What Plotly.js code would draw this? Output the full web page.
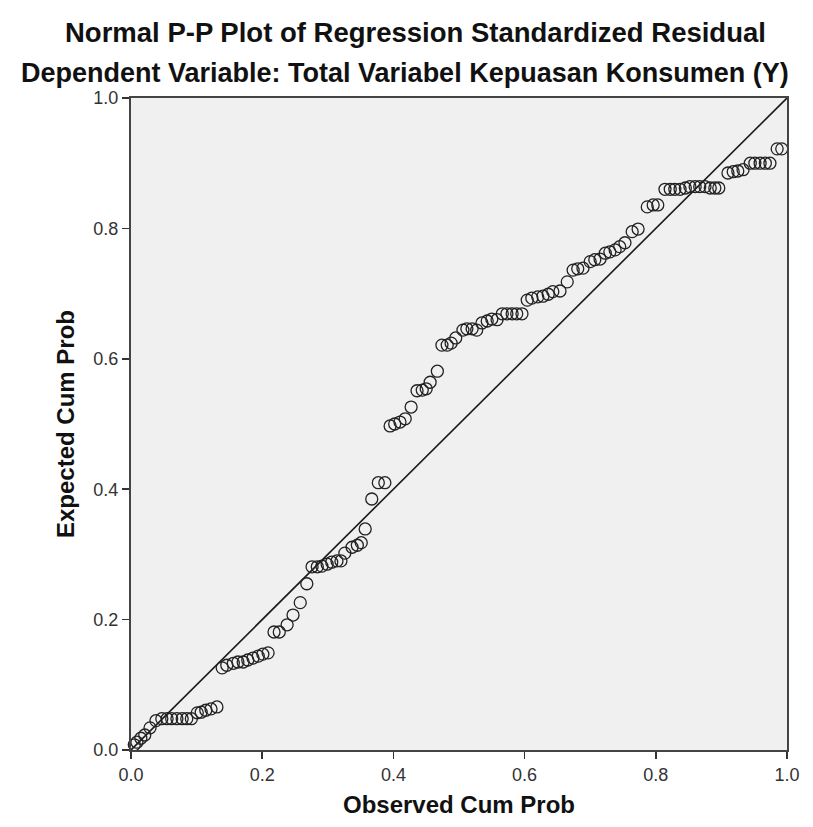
<!DOCTYPE html>
<html>
<head>
<meta charset="utf-8">
<script src="https://cdn.plot.ly/plotly-3.0.1.min.js"></script>
<style>html,body{margin:0;padding:0;background:#fff;}#chart{width:813px;height:827px;}</style>
</head>
<body>
<div id="chart"></div>
<script>
// Observed cumulative probability (x) and expected cumulative probability (y)
var observedCumProb = [
  0.005, 0.009, 0.015, 0.021, 0.029, 0.038,
  0.047, 0.055, 0.062, 0.070, 0.078, 0.085, 0.092,
  0.101, 0.107, 0.114, 0.122, 0.131,
  0.139, 0.146, 0.156, 0.163, 0.171, 0.178, 0.186, 0.194, 0.201, 0.209,
  0.218, 0.226, 0.238, 0.247, 0.258, 0.268, 0.276, 0.284, 0.291, 0.299, 0.306, 0.314, 0.320,
  0.326, 0.337, 0.345, 0.351, 0.357, 0.367, 0.377, 0.387,
  0.395, 0.402, 0.410, 0.418, 0.427, 0.436, 0.444, 0.450, 0.456, 0.467,
  0.474, 0.482, 0.488, 0.495, 0.506, 0.512, 0.520, 0.527, 0.535, 0.543, 0.550, 0.558,
  0.566, 0.573, 0.581, 0.588, 0.596,
  0.604, 0.611, 0.620, 0.628, 0.636, 0.643, 0.654, 0.665, 0.674, 0.681, 0.689,
  0.700, 0.707, 0.715, 0.723, 0.730, 0.738, 0.745, 0.753, 0.764, 0.773,
  0.787, 0.796, 0.803,
  0.814, 0.822, 0.829, 0.837, 0.845, 0.852, 0.860, 0.867, 0.875, 0.883, 0.890, 0.896,
  0.910, 0.918, 0.925, 0.933, 0.944, 0.951, 0.959, 0.967, 0.974, 0.985, 0.992
];
var expectedCumProb = [
  0.008, 0.012, 0.018, 0.023, 0.034, 0.045,
  0.048, 0.048, 0.048, 0.048, 0.048, 0.048, 0.048,
  0.057, 0.058, 0.061, 0.063, 0.066,
  0.126, 0.130, 0.133, 0.135, 0.135, 0.138, 0.141, 0.144, 0.147, 0.149,
  0.181, 0.181, 0.192, 0.207, 0.226, 0.255, 0.281, 0.281, 0.282, 0.285, 0.288, 0.290, 0.290,
  0.302, 0.311, 0.314, 0.318, 0.339, 0.385, 0.410, 0.410,
  0.497, 0.500, 0.503, 0.508, 0.526, 0.551, 0.552, 0.554, 0.564, 0.581,
  0.621, 0.621, 0.624, 0.632, 0.644, 0.646, 0.646, 0.644, 0.655, 0.658, 0.661, 0.660,
  0.669, 0.669, 0.669, 0.669, 0.669,
  0.690, 0.693, 0.695, 0.696, 0.699, 0.703, 0.704, 0.718, 0.736, 0.738, 0.739,
  0.749, 0.752, 0.753, 0.762, 0.764, 0.767, 0.772, 0.778, 0.795, 0.799,
  0.833, 0.836, 0.836,
  0.860, 0.860, 0.860, 0.860, 0.862, 0.864, 0.864, 0.864, 0.864, 0.862, 0.862, 0.862,
  0.885, 0.887, 0.888, 0.890, 0.900, 0.900, 0.900, 0.900, 0.900, 0.922, 0.922
];
var referenceLine = [0, 1];
var tickValues = [0, 0.2, 0.4, 0.6, 0.8, 1.0];
var tickLabels = ["0.0", "0.2", "0.4", "0.6", "0.8", "1.0"];

var FONT = "Liberation Sans, Arial, sans-serif";

var traces = [
  {
    x: referenceLine, y: referenceLine, type: "scatter", mode: "lines",
    line: {color: "#1a1a1a", width: 1.6}, hoverinfo: "skip", cliponaxis: false
  },
  {
    x: observedCumProb, y: expectedCumProb, type: "scatter", mode: "markers",
    marker: {symbol: "circle-open", size: 12, color: "#222", line: {width: 1.3, color: "#222"}},
    cliponaxis: false
  }
];

var axisCommon = {
  range: [0, 1], tickvals: tickValues, ticktext: tickLabels,
  showgrid: false, zeroline: false,
  showline: true, mirror: true, linecolor: "#444", linewidth: 2,
  ticks: "outside", ticklen: 7, tickwidth: 1.5, tickcolor: "#333",
  tickfont: {family: FONT, size: 18, color: "#333"}
};

var layout = {
  width: 813, height: 827,
  margin: {l: 131, r: 26, t: 98, b: 77},
  paper_bgcolor: "#ffffff", plot_bgcolor: "#f0f0f0",
  showlegend: false,
  xaxis: Object.assign({}, axisCommon, {
    title: {text: "<b>Observed Cum Prob</b>", font: {family: FONT, size: 24, color: "#111"}, standoff: 13}
  }),
  yaxis: Object.assign({}, axisCommon, {
    title: {text: "<b>Expected Cum Prob</b>", font: {family: FONT, size: 24, color: "#111"}, standoff: 12}
  }),
  annotations: [
    {text: "<b>Normal P-P Plot of Regression Standardized Residual</b>", xref: "paper", yref: "paper",
     x: 0.434, y: 1.101, xanchor: "center", yanchor: "middle", showarrow: false,
     font: {family: FONT, size: 27.5, color: "#111"}},
    {text: "<b>Dependent Variable: Total Variabel Kepuasan Konsumen (Y)</b>", xref: "paper", yref: "paper",
     x: 0.418, y: 1.039, xanchor: "center", yanchor: "middle", showarrow: false,
     font: {family: FONT, size: 27, color: "#111"}}
  ]
};

Plotly.newPlot("chart", traces, layout, {displayModeBar: false, staticPlot: true});
</script>
</body>
</html>
